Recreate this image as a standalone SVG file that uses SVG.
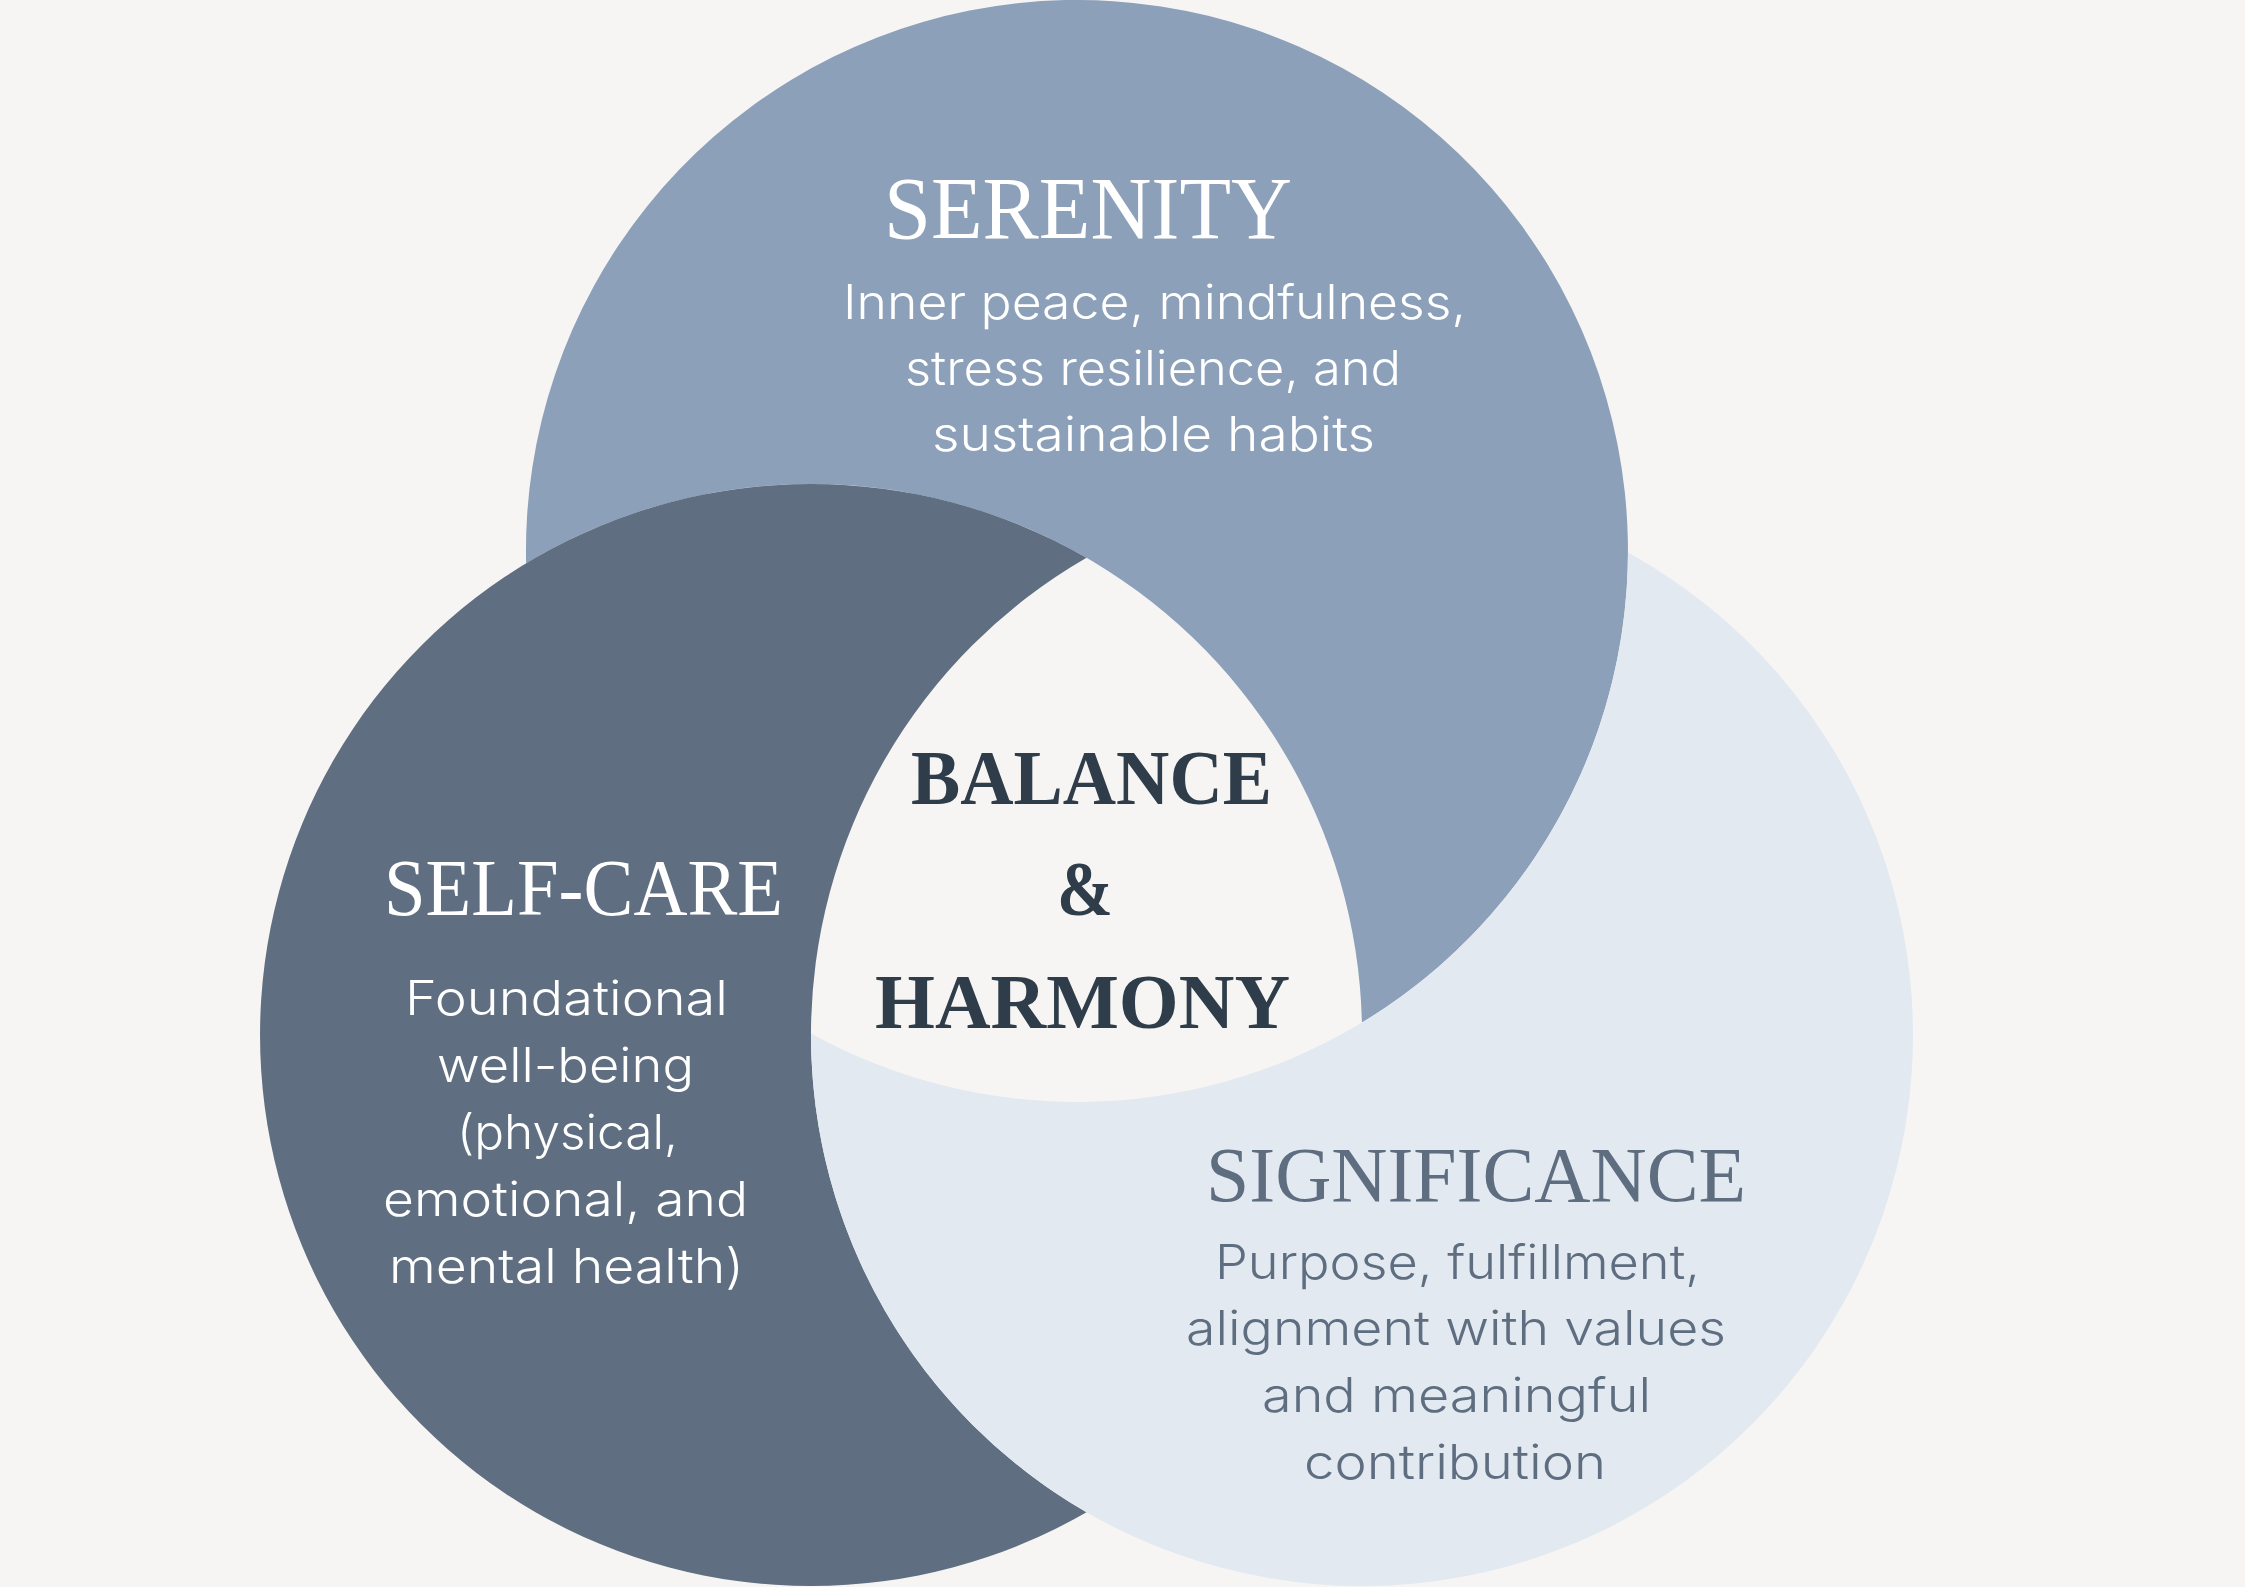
<svg xmlns="http://www.w3.org/2000/svg" width="2245" height="1587" viewBox="0 0 2245 1587">
<style>
.title{font-family:"Liberation Serif","DejaVu Serif",serif;font-weight:400;}
.center{font-family:"Liberation Serif","DejaVu Serif",serif;font-weight:700;fill:#2E3D49;}
.body{font-family:Inter,"Open Sans","Liberation Sans",sans-serif;font-weight:300;font-size:48px;}
.w{fill:#FFFFFF;}
.s{fill:#5E6E80;}
</style>
<rect width="2245" height="1587" fill="#F6F5F3"/>
<g id="serenity">
<path d="M526.1,563.4 A551,551 0 1 1 1361.9,1022.6 A551,551 0 0 0 526.1,563.4 Z" fill="#8CA0B9"/>
<text class="title w" x="884" y="238" font-size="88" textLength="408" lengthAdjust="spacingAndGlyphs">SERENITY</text>
<text class="body w" x="843" y="319" textLength="623" lengthAdjust="spacingAndGlyphs">Inner peace, mindfulness,</text>
<text class="body w" x="905" y="385" textLength="496" lengthAdjust="spacingAndGlyphs">stress resilience, and</text>
<text class="body w" x="932" y="451" textLength="443" lengthAdjust="spacingAndGlyphs">sustainable habits</text>
</g>
<g id="self-care">
<path d="M1086.5,557.8 A551,551 0 1 0 1086.5,1512.2 A551,551 0 0 1 1086.5,557.8 Z" fill="#5F6E80"/>
<text class="title w" x="384" y="915" font-size="80" textLength="399" lengthAdjust="spacingAndGlyphs">SELF-CARE</text>
<text class="body w" x="405" y="1015" textLength="323" lengthAdjust="spacingAndGlyphs">Foundational</text>
<text class="body w" x="437" y="1082" textLength="257" lengthAdjust="spacingAndGlyphs">well-being</text>
<text class="body w" x="457" y="1149" textLength="221" lengthAdjust="spacingAndGlyphs">(physical,</text>
<text class="body w" x="383" y="1216" textLength="365" lengthAdjust="spacingAndGlyphs">emotional, and</text>
<text class="body w" x="389" y="1283" textLength="355" lengthAdjust="spacingAndGlyphs">mental health)</text>
</g>
<g id="significance">
<path d="M811,1033.5 A551,551 0 1 0 1628,552.5 A551,551 0 0 1 811,1033.5 Z" fill="#E2E9F0"/>
<text class="title s" x="1206" y="1201" font-size="78" textLength="540" lengthAdjust="spacingAndGlyphs">SIGNIFICANCE</text>
<text class="body s" x="1215" y="1279" textLength="485" lengthAdjust="spacingAndGlyphs">Purpose, fulfillment,</text>
<text class="body s" x="1186" y="1345" textLength="540" lengthAdjust="spacingAndGlyphs">alignment with values</text>
<text class="body s" x="1262" y="1412" textLength="389" lengthAdjust="spacingAndGlyphs">and meaningful</text>
<text class="body s" x="1304" y="1479" textLength="302" lengthAdjust="spacingAndGlyphs">contribution</text>
</g>
<g id="balance-harmony">
<text class="center" x="911" y="804" font-size="78" textLength="361" lengthAdjust="spacingAndGlyphs">BALANCE</text>
<text class="center" x="1057" y="915" font-size="78" textLength="56" lengthAdjust="spacingAndGlyphs">&amp;</text>
<text class="center" x="875" y="1028" font-size="78" textLength="415" lengthAdjust="spacingAndGlyphs">HARMONY</text>
</g>
</svg>
